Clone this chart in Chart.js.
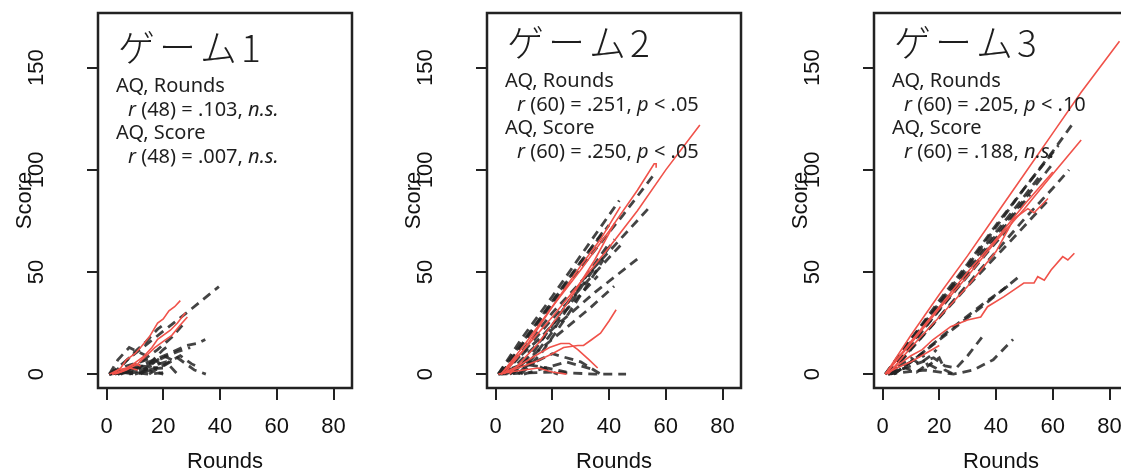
<!DOCTYPE html>
<html>
<head>
<meta charset="utf-8">
<script src="https://cdn.jsdelivr.net/npm/chart.js@4.4.1/dist/chart.umd.min.js"></script>
<style>
  html, body { margin: 0; padding: 0; background: #fff; overflow: hidden; }
  body { width: 1121px; height: 475px; position: relative; }
  .panel { position: absolute; top: 0; width: 388px; height: 475px; }
</style>
</head>
<body>
<div class="panel" style="left:0px"><canvas id="game1" width="388" height="475"></canvas></div>
<div class="panel" style="left:389px"><canvas id="game2" width="388" height="475"></canvas></div>
<div class="panel" style="left:776px"><canvas id="game3" width="388" height="475"></canvas></div>
<script>
// axis ticks
const xTicks = [0, 20, 40, 60, 80]
const yTicks = [0, 50, 100, 150]

// panel titles and stats (_..._ = italic)
const titles = ['ゲーム1', 'ゲーム2', 'ゲーム3']
const game1Stats = ['AQ, Rounds', '_r_ (48) = .103, _n.s._', 'AQ, Score', '_r_ (48) = .007, _n.s._']
const game2Stats = ['AQ, Rounds', '_r_ (60) = .251, _p_ < .05', 'AQ, Score', '_r_ (60) = .250, _p_ < .05']
const game3Stats = ['AQ, Rounds', '_r_ (60) = .205, _p_ < .10', 'AQ, Score', '_r_ (60) = .188, _n.s._']

// trajectories [rounds, score]
const game1Red = [
    [[2,0],[5,3],[7,7],[10,10],[12,13],[15,18],[18,25],[20,27],[22,31],[24,33],[26,36]],
    [[2,0],[6,2],[9.5,5],[13,8.5],[16,13],[18,17],[22.5,21.5],[25,25],[27.8,30]],
    [[3,0],[7,2],[11,5],[14,9],[17,13],[20,16],[23,19],[26,24],[28.5,28]],
    [[1,0],[4,2],[7,3],[10,5],[12,4]],
    [[2,0],[5,1],[8,3],[11,2]],
]
const game1Black = [
    [[1,0],[10,10],[20,21],[30,32],[39.6,42.8]],
    [[3,0],[12,6],[18,12],[23,18],[27.8,25.6]],
    [[2,0],[6,5],[10,11],[14,16],[18,22],[21,25]],
    [[1,0],[4,7],[8,13],[11,11],[14,9]],
    [[4,0],[15,6],[22,10],[28,14],[32,15],[34.8,17]],
    [[4,0],[14,4],[20,8],[25,11],[29.5,13]],
    [[10,0],[20,4],[25,8],[28,5],[31,2],[35,0]],
    [[15,0],[22,6],[26,9],[30,5],[33,3]],
    [[5,0],[15,5],[20,12],[22,14]],
    [[8,0],[16,4],[21,6],[25,0]],
    [[1,0],[10,2],[20,3]],
    [[1,0],[8,1],[15,0],[22,1]],
    [[1,0],[6,2],[12,4],[18,3]],
    [[1,0],[5,1],[10,0],[16,2]],
    [[2,0],[7,4],[12,6],[16,8],[19,5]],
    [[3,0],[9,3],[14,2],[20,0]],
    [[12,0],[17,6],[20,9],[23,7]],
    [[1,0],[3,2],[6,1],[9,3]],
]
const game2Red = [
    [[2,0],[10,12],[20,28],[30,45],[40,62],[50,80],[60,100],[72,122]],
    [[2,0],[10,14],[20,33],[30,51],[40,70],[50,90],[55.9,103],[56.6,103],[56.6,101]],
    [[3,0],[10,12],[20,33],[30,53],[37,66],[44,82]],
    [[5,0],[15,15],[25,34],[35,56],[42,74]],
    [[2,0],[8,3],[14,6],[20,10],[24,13],[29,14],[31,14],[33.7,16.7],[37,20],[40,26],[42.5,31.5]],
    [[2,0],[8,4],[14,9],[19,13],[23,15],[26,15],[29,12],[33,7],[36,3]],
    [[1,0],[5,1],[10,2],[15,3],[20,1],[25,0]],
]
const game2Black = [
    [[1,0],[9,17],[20,38],[30,58],[43.6,85]],
    [[2,0],[15,25],[30,52],[45,78],[56,98]],
    [[3,0],[20,30],[40,60],[53.8,81]],
    [[4,0],[20,22],[35,40],[50.6,57]],
    [[5,0],[20,17],[33,32],[41.8,43]],
    [[8,0],[12,6],[19.7,20],[30.3,42.8],[42,66]],
    [[6,0],[14,12],[22,28],[32,48],[40,64]],
    [[9,0],[16,10],[24,26],[33,45],[38,56]],
    [[1,0],[15,26],[30,55],[40,73]],
    [[2,0],[12,20],[25,45],[38,70]],
    [[3,0],[20,27],[44,63]],
    [[1,0],[20,1],[35,0],[46,0]],
    [[5,0],[20,10],[30,6],[37,0]],
    [[10,0],[25,6],[35,2]],
    [[2,0],[10,5],[18,3],[25,1]],
    [[1,0],[6,3],[12,6],[18,2],[22,0]],
    [[1,0],[8,8],[16,18],[24,30],[32,42],[36,48]],
]
const game3Red = [
    [[1,0],[10,19],[20,39],[30,58],[40,78],[50,98],[60,118],[70,138],[83.5,163]],
    [[1,0],[10,15],[20,32],[30,48],[40,65],[50,81],[60,98],[70,114.6]],
    [[1,0],[10,16],[20,33],[30,50],[40,66],[50,83],[60,99]],
    [[2,0],[10,13],[20,28],[30,43],[40,60],[46.3,76],[51.2,81],[53.4,79],[58.3,86]],
    [[1,0],[5,4],[10,9],[14,12],[17.6,16.7],[24,23.2],[29.9,26.5],[34.6,28],[37,33],[42.8,37.9],[46.3,41.2],[49.8,44.6],[53.4,44.6],[54.7,47.7],[57,46],[59.4,51],[63.5,57.5],[65.3,55.9],[67.6,59.2]],
    [[1,0],[5,3],[10,6],[15,10],[20,14]],
]
const game3Black = [
    [[2,0],[10,16],[20,35],[30,53],[40,72],[50,91],[60,109],[67.5,123.5]],
    [[3,0],[10,12],[20,28],[30,44],[40,60],[50,76],[60,91],[65.7,100]],
    [[2,0],[15,20],[30,43],[45,65],[58.3,85]],
    [[1,0],[10,17],[20,36],[30,54],[40,73],[50,91],[62,112]],
    [[2,0],[12,19],[24,40],[36,61],[48,82],[60,103]],
    [[1,0],[10,17],[22,38],[34,59],[46,80],[56,98]],
    [[3,0],[14,21],[26,42],[38,63],[52,88]],
    [[2,0],[12,18],[24,38],[36,58],[44,71]],
    [[3,0],[10,6],[23,20],[35,33],[48.8,48.5]],
    [[4,0],[12,8],[24,22],[36,35],[45,44]],
    [[2,0],[15,2],[25,0],[32,2],[39,7],[46,17]],
    [[2,0],[12,5],[18,8],[22,4],[26,3],[30,9],[35,18]],
    [[4,0],[10,6],[14,10],[16,4],[20,8],[22,2],[25,0]],
    [[1,0],[6,4],[10,8],[13,5],[17,9],[19,12]],
    [[2,0],[8,3],[12,1],[16,5],[20,2]],
]

const tickFont = { family: '"Liberation Sans", Arial, sans-serif', size: 22 }

// box, big title and the stats lines
const panelText = {
    id: 'panelText',
    afterDatasetsDraw(chart, args, opts) {
        const ctx = chart.ctx
        const a = chart.chartArea
        ctx.save()
        ctx.strokeStyle = '#222'
        ctx.lineWidth = 2.5
        ctx.strokeRect(a.left, a.top, a.right - a.left, a.bottom - a.top)

        ctx.fillStyle = '#1e1e1e'
        ctx.font = '300 37px "Noto Sans CJK JP"'
        ctx.letterSpacing = '4px'
        ctx.fillText(opts.title, a.left + 20, opts.top + 49)
        ctx.letterSpacing = '0px'

        opts.stats.forEach((line, i) => {
            let x = a.left + (line.startsWith('_') ? 30 : 18)
            const y = opts.top + 79 + i * 23.5
            line.split('_').forEach((txt, k) => {
                if (!txt) return
                ctx.font = (k % 2 ? 'italic ' : '') + '20px "Noto Sans"'
                ctx.fillText(txt, x, y)
                x += ctx.measureText(txt).width
            })
        })
        ctx.restore()
    },
}

function makeChart(id, title, stats, blackLines, redLines, top) {
    const datasets = []
    redLines.forEach((line) => {
        datasets.push({
            data: line.map((p) => ({ x: p[0], y: p[1] })),
            borderColor: '#f0524a',
            borderWidth: 1.6,
            pointRadius: 0,
        })
    })
    blackLines.forEach((line) => {
        datasets.push({
            data: line.map((p) => ({ x: p[0], y: p[1] })),
            borderColor: 'rgba(35,35,35,0.85)',
            borderWidth: 2.8,
            borderDash: [9, 6],
            pointRadius: 0,
        })
    })

    new Chart(document.getElementById(id), {
        type: 'line',
        data: { datasets },
        options: {
            responsive: false,
            animation: false,
            events: [],
            layout: { padding: { left: 0, top: 13, right: 36, bottom: 0 } },
            plugins: {
                legend: { display: false },
                tooltip: { enabled: false },
                panelText: { title, stats, top },
            },
            scales: {
                x: {
                    type: 'linear',
                    min: -3,
                    max: 86.5,
                    afterBuildTicks: (s) => { s.ticks = xTicks.map((v) => ({ value: v })) },
                    afterFit: (s) => {
                        s.height = 87
                        s.paddingLeft = 0
                        s.paddingRight = 0
                    },
                    grid: { drawOnChartArea: false, tickLength: 12, color: '#222', lineWidth: 2 },
                    border: { display: false },
                    ticks: { font: tickFont, color: '#111', padding: 14, maxRotation: 0 },
                    title: { display: true, text: 'Rounds', font: tickFont, color: '#111', padding: { top: 0, bottom: 0 } },
                },
                y: {
                    type: 'linear',
                    min: -6.8,
                    max: 176.8,
                    afterBuildTicks: (s) => { s.ticks = yTicks.map((v) => ({ value: v })) },
                    afterFit: (s) => {
                        s.width = 98
                        s.paddingTop = 0
                        s.paddingBottom = 0
                    },
                    grid: { drawOnChartArea: false, tickLength: 11, color: '#222', lineWidth: 2 },
                    border: { display: false },
                    ticks: { font: tickFont, color: '#111', padding: 32, minRotation: 90, maxRotation: 90, crossAlign: 'center' },
                    title: { display: true, text: 'Score', font: tickFont, color: '#111', padding: { top: 12, bottom: 0 } },
                },
            },
        },
        plugins: [panelText],
    })
}

makeChart('game1', titles[0], game1Stats, game1Black, game1Red, 13)
makeChart('game2', titles[1], game2Stats, game2Black, game2Red, 8)
makeChart('game3', titles[2], game3Stats, game3Black, game3Red, 8)
</script>
</body>
</html>
